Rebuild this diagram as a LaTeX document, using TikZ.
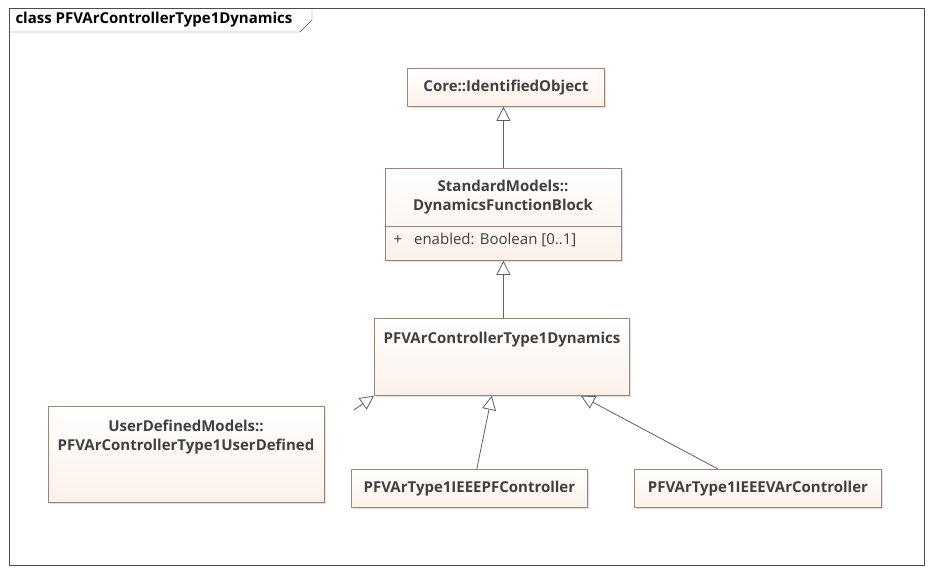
\documentclass[tikz,border=0pt]{standalone}
\usepackage{fontspec}
\setmainfont{Open Sans}
\usetikzlibrary{arrows.meta,positioning,shadows}
\definecolor{boxfill}{HTML}{FBF1EA}
\definecolor{boxline}{HTML}{9E8474}
\definecolor{edgeline}{HTML}{5A6075}
\begin{document}
\begin{tikzpicture}
  [
    x=1pt, y=-1pt,
    classbox/.style={rectangle, draw=boxline, thick, top color=white, bottom color=boxfill, drop shadow={shadow xshift=2pt, shadow yshift=-2pt, fill=black!25}, anchor=north west, inner sep=0pt},
    boxtext/.style={font=\bfseries\fontsize{15}{19}\selectfont, text=black!75, align=center},
    inherit/.style={draw=edgeline, thick, -{Triangle[open, width=14pt, length=14pt, fill=white]}},
  ]
  \useasboundingbox (0,0) rectangle (932,573);
  % frame and title tab
  \draw[black!70] (9,8) rectangle (924,565);
  \draw[black!70] (9,32) -- (300,32) -- (312,20) -- (312,8);
  \node[anchor=west, font=\bfseries\fontsize{15}{17}\selectfont] (title) at (12,20) {class PFVArControllerType1Dynamics};

  \node[classbox, boxtext, minimum width=197pt, minimum height=38pt] (core) at (407,68) {Core::IdentifiedObject};
  \node[classbox, minimum width=236pt, minimum height=92pt] (std) at (385,168) {};
  \node[boxtext] (stdname) at (503,197) {StandardModels::\\DynamicsFunctionBlock};
  \draw[boxline, thick] (385,226) -- (621,226);
  \node[anchor=west, font=\fontsize{15}{17}\selectfont, text=black!75] (attr) at (390,240) {+\hspace{12pt}enabled: Boolean [0..1]};
  \node[classbox, minimum width=255pt, minimum height=77pt] (ctrl) at (374,318) {};
  \node[boxtext] (ctrlname) at (502,340) {PFVArControllerType1Dynamics};
  \node[classbox, minimum width=276pt, minimum height=96pt] (user) at (48,406) {};
  \node[boxtext] (username) at (186,437) {UserDefinedModels::\\PFVArControllerType1UserDefined};
  \node[classbox, boxtext, minimum width=236pt, minimum height=38pt] (pf) at (351,469) {PFVArType1IEEEPFController};
  \node[classbox, boxtext, minimum width=247pt, minimum height=38pt] (var) at (634,469) {PFVArType1IEEEVArController};

  \draw[inherit] (std.north) -- (std.north |- core.south);
  \draw[inherit] (ctrl.north -| std.south) -- (std.south);
  \draw[inherit] ([xshift=29pt, yshift=-4pt]user.north east) -- (ctrl.south west);
  \draw[inherit] ([xshift=-111pt]pf.north east) -- ([xshift=-138pt]ctrl.south east);
  \draw[inherit] ([xshift=84pt]var.north west) -- ([xshift=-49pt]ctrl.south east);
\end{tikzpicture}
\end{document}
